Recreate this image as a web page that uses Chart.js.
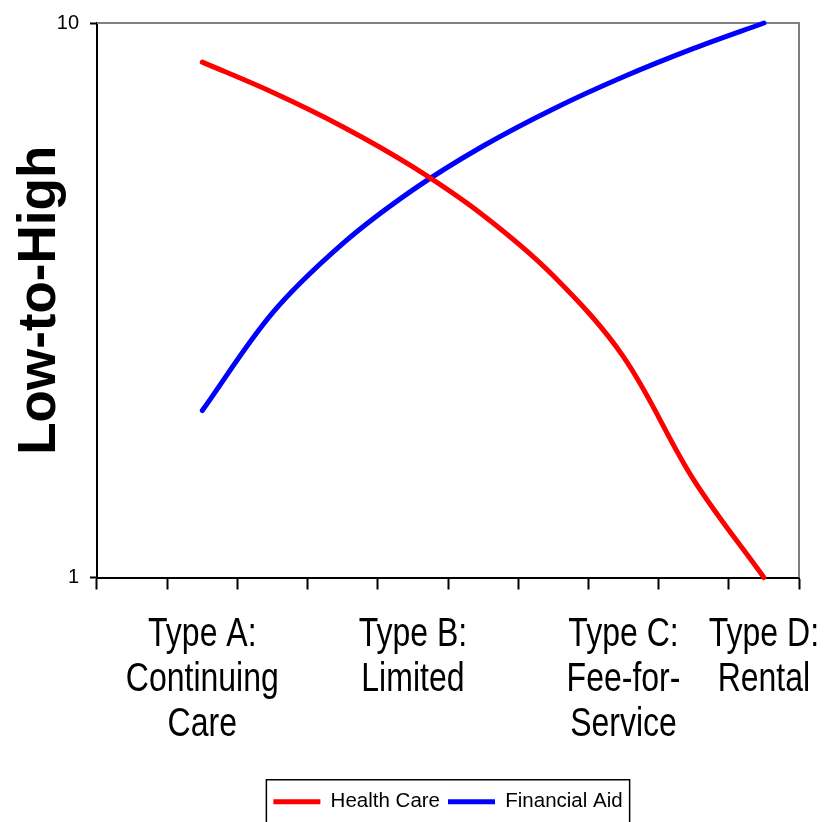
<!DOCTYPE html>
<html>
<head>
<meta charset="utf-8">
<script src="https://cdn.jsdelivr.net/npm/chart.js@4.4.1/dist/chart.umd.min.js"></script>
<style>
  html, body { margin: 0; padding: 0; background: #ffffff; }
  #wrap { width: 836px; height: 822px; }
</style>
</head>
<body>
<div id="wrap"><canvas id="chart" width="836" height="822"></canvas></div>
<script>
// Retirement community contract types along the x axis (only some slots carry a label)
const categories = [
  '',
  ['Type A:', 'Continuing', 'Care'],
  '',
  '',
  ['Type B:', 'Limited'],
  '',
  '',
  ['Type C:', 'Fee-for-', 'Service'],
  '',
  ['Type D:', 'Rental']
];

// Relative level of each factor, low-to-high, on a log scale
const healthCare   = [null, 8.5, 7.5, 6.5, 5.5, 4.5, 3.5, 2.5, 1.5, 1];
const financialAid = [null, 2, 3, 4, 5, 6, 7, 8, 9, 10];

// Only the decade marks are labelled on the value axis
const yTickValues = [1, 10];

const BODY_FONT = "'Liberation Sans', Arial, sans-serif";

// Grey frame along the top and right edges of the plot area
const plotFrame = {
  id: 'plotFrame',
  beforeDatasetsDraw(chart) {
    const { ctx, chartArea: a } = chart;
    ctx.save();
    ctx.strokeStyle = '#808080';
    ctx.lineWidth = 2;
    ctx.beginPath();
    ctx.moveTo(a.left, a.top);
    ctx.lineTo(a.right, a.top);
    ctx.lineTo(a.right, a.bottom);
    ctx.stroke();
    ctx.restore();
  }
};

// Category labels in a condensed face: each line is squeezed horizontally
// and centred on the tick position supplied by the x scale.
const condensedCategoryLabels = {
  id: 'condensedCategoryLabels',
  afterDraw(chart, args, opts) {
    const scale = chart.scales.x;
    const ctx = chart.ctx;
    const size = opts.size;
    const lineHeight = opts.lineHeight;
    ctx.save();
    ctx.fillStyle = '#000000';
    ctx.font = size + 'px ' + BODY_FONT;
    ctx.textAlign = 'center';
    ctx.textBaseline = 'middle';
    scale.ticks.forEach((tick, i) => {
      const label = chart.data.labels[i];
      if (!label) return;
      const lines = Array.isArray(label) ? label : [label];
      const x = scale.getPixelForTick(i);
      lines.forEach((line, k) => {
        const y = scale.top + opts.offset + lineHeight * (k + 0.5);
        ctx.save();
        ctx.translate(x, y);
        ctx.scale(opts.squeeze, 1);
        ctx.fillText(line, 0, 0);
        ctx.restore();
      });
    });
    ctx.restore();
  }
};

// Box drawn around the legend entries
const legendFrame = {
  id: 'legendFrame',
  afterDraw(chart) {
    const boxes = chart.legend && chart.legend.legendHitBoxes;
    if (!boxes || !boxes.length) return;
    const left = Math.min(...boxes.map(b => b.left)) - 7;
    const right = Math.max(...boxes.map(b => b.left + b.width)) + 7;
    const cy = boxes[0].top + boxes[0].height / 2;
    const ctx = chart.ctx;
    ctx.save();
    ctx.strokeStyle = '#000000';
    ctx.lineWidth = 1.5;
    ctx.strokeRect(left, cy - 22, right - left, 46);
    ctx.restore();
  }
};

new Chart(document.getElementById('chart'), {
  type: 'line',
  data: {
    labels: categories,
    datasets: [
      {
        label: 'Health Care',
        data: healthCare,
        borderColor: '#ff0000',
        backgroundColor: '#ff0000',
        borderWidth: 5,
        borderCapStyle: 'round',
        borderJoinStyle: 'round',
        pointRadius: 0,
        tension: 0.35,
        clip: false
      },
      {
        label: 'Financial Aid',
        data: financialAid,
        borderColor: '#0000ff',
        backgroundColor: '#0000ff',
        borderWidth: 5,
        borderCapStyle: 'round',
        borderJoinStyle: 'round',
        pointRadius: 0,
        tension: 0.35,
        clip: false
      }
    ]
  },
  options: {
    responsive: false,
    animation: false,
    layout: { padding: { top: 19, right: 37, left: 0, bottom: 0 } },
    scales: {
      x: {
        type: 'category',
        offset: true,
        grid: {
          offset: true,
          drawOnChartArea: false,
          drawTicks: true,
          tickLength: 12,
          tickWidth: 2,
          tickColor: '#000000'
        },
        border: { display: true, color: '#000000', width: 2 },
        ticks: { display: false, autoSkip: false },
        afterFit(scale) { scale.height = 206; }
      },
      y: {
        type: 'logarithmic',
        min: 1,
        max: 10,
        afterBuildTicks(scale) {
          scale.ticks = yTickValues.map(v => ({ value: v }));
        },
        grid: {
          drawOnChartArea: false,
          drawTicks: true,
          tickLength: 7,
          tickWidth: 2,
          tickColor: '#000000'
        },
        border: { display: true, color: '#000000', width: 2 },
        ticks: {
          padding: 11,
          color: '#000000',
          font: { family: BODY_FONT, size: 20 },
          callback: (v) => String(v)
        },
        title: {
          display: true,
          text: 'Low-to-High',
          color: '#000000',
          padding: { top: 14, bottom: 0 },
          font: { family: BODY_FONT, size: 53, weight: 'bold', lineHeight: 1 }
        },
        afterFit(scale) { scale.width = 97; }
      }
    },
    plugins: {
      title: { display: false },
      tooltip: { enabled: false },
      condensedCategoryLabels: { size: 40, lineHeight: 45, offset: 35, squeeze: 0.8 },
      legend: {
        display: true,
        position: 'bottom',
        fullSize: false,
        labels: {
          usePointStyle: true,
          pointStyle: 'line',
          pointStyleWidth: 47,
          padding: 8,
          color: '#000000',
          font: { family: BODY_FONT, size: 20.5 }
        }
      }
    }
  },
  plugins: [plotFrame, condensedCategoryLabels, legendFrame]
});
</script>
</body>
</html>
